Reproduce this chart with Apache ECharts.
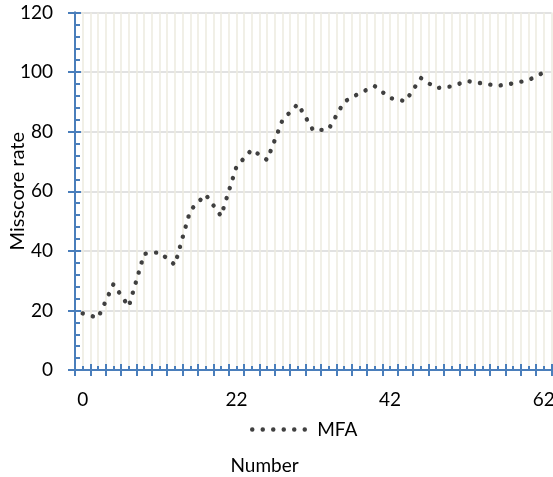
<!DOCTYPE html>
<html><head><meta charset="utf-8">
<script src="https://cdn.jsdelivr.net/npm/echarts@6/dist/echarts.min.js"></script>
<style>html,body{margin:0;padding:0;background:#fff}#c{width:553px;height:477px}</style>
</head><body><div id="c"></div>
<script>
// Category labels along the x axis (only every 10th is shown)
const categories = ['0','4','6','8','10','12','14','16','18','20','22','24','26','28','30','32','34','36','38','40','42','44','46','48','50','52','54','56','58','60','62'];
// MFA misscore rate per category
const mfaValues = [19.0, 17.5, 28.8, 21.3, 39.0, 39.5, 35.3, 53.6, 58.9, 51.7, 68.2, 74.0, 70.5, 83.9, 89.3, 80.4, 80.8, 90.0, 92.9, 95.3, 91.3, 90.2, 98.0, 94.6, 95.2, 97.0, 96.2, 95.4, 96.2, 97.3, 99.9];
const seriesName = 'MFA';
const xTitle = 'Number';
const yTitle = 'Misscore rate';

const FONT = 'Lato';
const AXIS_BLUE = '#4a7ebb';
const DOT = {color: '#404040', width: 4.4, type: [0.1, 10.4], cap: 'round'};
const chart = echarts.init(document.getElementById('c'), null, {renderer: 'canvas'});
const txt = {fontFamily: FONT, fontSize: 19, color: '#000'};

chart.setOption({
  animation: false,
  backgroundColor: '#fff',
  grid: {left: 75, right: 1.5, top: 12.5, bottom: 107, containLabel: false, outerBoundsMode: 'none'},
  xAxis: [
    { // grid lines and inside ticks
      type: 'value', min: 0, max: categories.length * 2, interval: 2, position: 'bottom',
      axisLine: {show: true, lineStyle: {color: AXIS_BLUE, width: 2}},
      axisTick: {show: true, inside: true, length: 6, lineStyle: {color: AXIS_BLUE, width: 2}},
      minorTick: {show: true, splitNumber: 2, length: 4, lineStyle: {color: AXIS_BLUE, width: 2}},
      axisLabel: {show: false},
      splitLine: {show: true, lineStyle: {color: '#eeece1', width: 1.6}},
      minorSplitLine: {show: true, lineStyle: {color: '#eeece1', width: 1.6}}
    },
    { // categories, outside ticks and labels
      type: 'category', data: categories, boundaryGap: true, position: 'bottom',
      axisLine: {show: true, lineStyle: {color: AXIS_BLUE, width: 2}},
      axisTick: {show: true, inside: false, length: 6, interval: 0, lineStyle: {color: AXIS_BLUE, width: 2}},
      axisLabel: Object.assign({interval: 9, margin: 20}, txt),
      splitLine: {show: false}
    }
  ],
  yAxis: [
    {
      type: 'value', min: 0, max: 120, interval: 20, position: 'left',
      name: yTitle, nameLocation: 'middle', nameGap: 47, nameMoveOverlap: false,
      nameTextStyle: Object.assign({}, txt, {fontSize: 20}),
      axisLine: {show: true, lineStyle: {color: AXIS_BLUE, width: 2}},
      axisTick: {show: true, inside: true, length: 6, lineStyle: {color: AXIS_BLUE, width: 2}},
      minorTick: {show: true, splitNumber: 5, length: 5, lineStyle: {color: AXIS_BLUE, width: 2}},
      axisLabel: Object.assign({margin: 22}, txt),
      splitLine: {show: true, lineStyle: {color: '#d9d9d9', width: 1.6}}
    },
    {
      type: 'value', min: 0, max: 120, interval: 20, position: 'left',
      axisLine: {show: true, lineStyle: {color: AXIS_BLUE, width: 2}},
      axisTick: {show: true, inside: false, length: 7, lineStyle: {color: AXIS_BLUE, width: 2}},
      axisLabel: {show: false},
      splitLine: {show: false}
    }
  ],
  legend: {
    data: [seriesName], left: 250, top: 420, padding: 0,
    itemWidth: 60, itemHeight: 14, textStyle: txt,
    itemStyle: {opacity: 0},
    lineStyle: DOT
  },
  graphic: [{
    type: 'text', left: 264.5 - 34, top: 467 - 11,
    style: {text: xTitle, font: '19px ' + FONT, fill: '#000'}
  }],
  series: [{
    name: seriesName, type: 'line', xAxisIndex: 1, yAxisIndex: 0,
    data: mfaValues, symbol: 'none', showSymbol: false,
    lineStyle: DOT,
    itemStyle: {color: '#404040'}
  }]
});
</script></body></html>
